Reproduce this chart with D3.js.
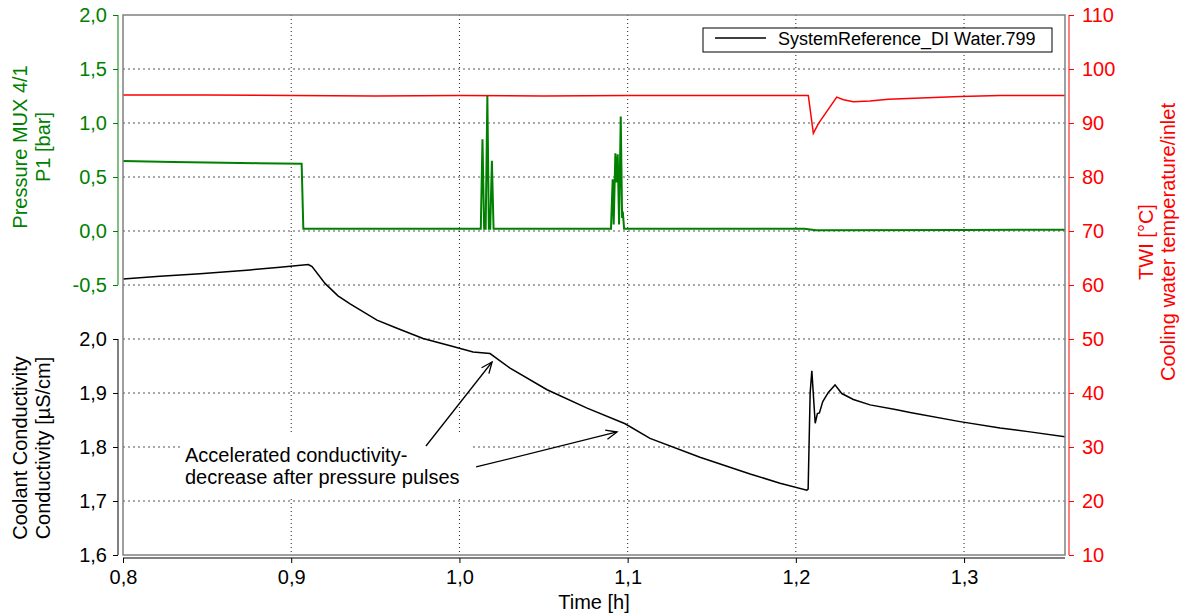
<!DOCTYPE html>
<html>
<head>
<meta charset="utf-8">
<script src="https://cdn.jsdelivr.net/npm/d3@7"></script>
<style>
  body { margin: 0; background: #fff; }
  svg { display: block; font-family: "Liberation Sans", Arial, sans-serif; }
</style>
</head>
<body>
<svg id="chart" width="1189" height="616"></svg>
<script>
// ---- tick values ----
const timeTicks = [0.8, 0.9, 1.0, 1.1, 1.2, 1.3];
const pressureTicks = [2.0, 1.5, 1.0, 0.5, 0.0, -0.5];
const conductivityTicks = [2.0, 1.9, 1.8, 1.7, 1.6];
const temperatureTicks = [10, 20, 30, 40, 50, 60, 70, 80, 90, 100, 110];

// ---- Pressure MUX 4/1 P1 [bar]  (time [h], bar) ----
const pressureSeries = [
  [0.800, 0.648], [0.830, 0.640], [0.860, 0.633], [0.880, 0.628], [0.9062, 0.622],
  [0.9072, 0.020], [0.950, 0.020], [1.000, 0.020],
  [1.0127, 0.020], [1.0137, 0.850], [1.0147, 0.020], [1.0156, 0.020],
  [1.0166, 1.250], [1.0175, 0.020], [1.0183, 0.020], [1.0193, 0.650],
  [1.0203, 0.020], [1.050, 0.020], [1.0901, 0.020],
  [1.0911, 0.480], [1.0917, 0.060], [1.0927, 0.720], [1.0934, 0.450],
  [1.0941, 0.710], [1.0949, 0.060], [1.0959, 1.060], [1.0967, 0.120],
  [1.0971, 0.180], [1.0979, 0.020], [1.150, 0.020], [1.205, 0.020],
  [1.212, 0.008], [1.300, 0.010], [1.360, 0.012]
];

// ---- TWI cooling water temperature/inlet [°C] ----
const temperatureSeries = [
  [0.800, 95.2], [0.850, 95.2], [0.900, 95.1], [0.950, 95.0], [1.000, 95.1],
  [1.050, 95.0], [1.100, 95.1], [1.150, 95.1], [1.200, 95.1], [1.2074, 95.1],
  [1.2104, 88.1], [1.2134, 89.9], [1.2243, 94.8], [1.2283, 94.3],
  [1.2342, 93.95], [1.2441, 94.07], [1.2550, 94.38], [1.2976, 94.9],
  [1.3214, 95.1], [1.3600, 95.1]
];

// ---- Coolant conductivity [µS/cm] ----
const conductivitySeries = [
  [0.800, 2.111], [0.822, 2.116], [0.8458, 2.121], [0.8755, 2.128], [0.8933, 2.133],
  [0.9102, 2.138], [0.9124, 2.134], [0.9201, 2.103], [0.9278, 2.080], [0.9350, 2.065],
  [0.9510, 2.035], [0.9629, 2.020], [0.9784, 2.001], [0.9962, 1.986], [1.0081, 1.976],
  [1.0182, 1.973], [1.0301, 1.946], [1.0521, 1.906], [1.0759, 1.872], [1.0985, 1.843],
  [1.1133, 1.816], [1.1430, 1.781], [1.1728, 1.750], [1.1906, 1.733], [1.2065, 1.720],
  [1.2073, 1.722], [1.2085, 1.900], [1.2095, 1.941], [1.2115, 1.844], [1.2128, 1.862],
  [1.2140, 1.863], [1.2160, 1.884], [1.2193, 1.901], [1.2233, 1.915], [1.2273, 1.899],
  [1.2342, 1.888], [1.2441, 1.878], [1.2600, 1.869], [1.2679, 1.864], [1.2976, 1.847],
  [1.3214, 1.835], [1.3392, 1.828], [1.3600, 1.819]
];

const legendLabel = "SystemReference_DI Water.799";
const noteLines = ["Accelerated conductivity-", "decrease after pressure pulses"];
// annotation arrows: [tail time, tail conductivity, head time, head conductivity]
const noteArrows = [
  [0.9801, 1.8019, 1.0194, 1.9574],
  [1.0099, 1.7630, 1.0937, 1.8278]
];

// ---- layout ----
const plot = { left: 123, right: 1065, top: 15, bottom: 555 };
const GREEN = "#008000", RED = "#ff0000";
const comma = d => d3.format(".1f")(d).replace(".", ",").replace("−", "-");

const svg = d3.select("#chart");

const x = d3.scaleLinear().domain([0.8, 1.36]).range([plot.left, plot.right]);
const yP = d3.scaleLinear().domain([-3, 2]).range([plot.bottom, plot.top]);
const yC = d3.scaleLinear().domain([1.6, 2.6]).range([plot.bottom, plot.top]);
const yT = d3.scaleLinear().domain([10, 110]).range([plot.bottom, plot.top]);

svg.append("defs").append("clipPath").attr("id", "plotClip")
  .append("rect").attr("x", plot.left).attr("y", plot.top)
  .attr("width", plot.right - plot.left).attr("height", plot.bottom - plot.top);

// ---- grid ----
const grid = svg.append("g");
grid.selectAll("line.h").data(temperatureTicks.filter(d => d > 10 && d < 110)).join("line")
  .attr("x1", plot.left).attr("x2", plot.right)
  .attr("y1", d => yT(d)).attr("y2", d => yT(d))
  .attr("stroke", "#555").attr("stroke-width", 1).attr("stroke-dasharray", "2,3");
grid.selectAll("line.v").data(timeTicks.filter(d => d > 0.8)).join("line")
  .attr("y1", plot.top).attr("y2", plot.bottom)
  .attr("x1", d => x(d)).attr("x2", d => x(d))
  .attr("stroke", "#222").attr("stroke-width", 1).attr("stroke-dasharray", "1,3");

// ---- annotation ----
const note = svg.append("g");
note.append("rect").attr("x", 183).attr("y", 435).attr("width", 290).attr("height", 62).attr("fill", "#fff");
note.selectAll("text").data(noteLines).join("text")
  .attr("x", 185).attr("y", (d, i) => 462 + i * 22)
  .attr("font-size", 20).attr("fill", "#000").text(d => d);

noteArrows.forEach(([t1, c1, t2, c2]) => {
  const x1 = x(t1), y1 = yC(c1), x2 = x(t2), y2 = yC(c2);
  const a = Math.atan2(y2 - y1, x2 - x1), L = 12, w = 0.4;
  note.append("line").attr("x1", x1).attr("y1", y1).attr("x2", x2).attr("y2", y2)
    .attr("stroke", "#000").attr("stroke-width", 1.3);
  note.append("path")
    .attr("d", `M${x2 - L * Math.cos(a - w)},${y2 - L * Math.sin(a - w)}L${x2},${y2}L${x2 - L * Math.cos(a + w)},${y2 - L * Math.sin(a + w)}`)
    .attr("fill", "none").attr("stroke", "#000").attr("stroke-width", 1.3);
});

// ---- series ----
const series = svg.append("g").attr("clip-path", "url(#plotClip)");
series.append("path").datum(pressureSeries)
  .attr("d", d3.line().x(d => x(d[0])).y(d => yP(d[1])))
  .attr("fill", "none").attr("stroke", GREEN).attr("stroke-width", 2);
series.append("path").datum(temperatureSeries)
  .attr("d", d3.line().x(d => x(d[0])).y(d => yT(d[1])))
  .attr("fill", "none").attr("stroke", RED).attr("stroke-width", 1.5);
series.append("path").datum(conductivitySeries)
  .attr("d", d3.line().x(d => x(d[0])).y(d => yC(d[1])))
  .attr("fill", "none").attr("stroke", "#000").attr("stroke-width", 1.5);

// ---- frame ----
svg.append("rect").attr("x", plot.left).attr("y", plot.top)
  .attr("width", plot.right - plot.left).attr("height", plot.bottom - plot.top)
  .attr("fill", "none").attr("stroke", "#808080").attr("stroke-width", 1.5);

// ---- axes ----
function styleAxis(g, color) {
  g.select(".domain").remove();
  g.selectAll(".tick line").attr("stroke", color);
  g.selectAll(".tick text").attr("fill", color).attr("font-size", 20)
    .attr("font-family", "Liberation Sans, Arial, sans-serif");
}

const gP = svg.append("g").attr("transform", "translate(118,0)")
  .call(d3.axisLeft(yP).tickValues(pressureTicks).tickSize(5).tickPadding(6).tickFormat(comma));
styleAxis(gP, GREEN);
gP.append("line").attr("y1", yP(2)).attr("y2", yP(-0.5)).attr("stroke", GREEN);

const gC = svg.append("g").attr("transform", "translate(118,0)")
  .call(d3.axisLeft(yC).tickValues(conductivityTicks).tickSize(5).tickPadding(6).tickFormat(comma));
styleAxis(gC, "#000");
gC.append("line").attr("y1", yC(2.0)).attr("y2", yC(1.6)).attr("stroke", "#000");

const gT = svg.append("g").attr("transform", "translate(1069,0)")
  .call(d3.axisRight(yT).tickValues(temperatureTicks).tickSize(5).tickPadding(8).tickFormat(d3.format("d")));
styleAxis(gT, RED);
gT.append("line").attr("y1", yT(110)).attr("y2", yT(10)).attr("stroke", RED);

const gX = svg.append("g").attr("transform", "translate(0,558)")
  .call(d3.axisBottom(x).tickValues(timeTicks).tickSize(5).tickPadding(7).tickFormat(comma));
styleAxis(gX, "#000");
gX.append("line").attr("x1", plot.left).attr("x2", plot.right).attr("stroke", "#000");

// ---- axis titles ----
function vTitle(xPos, yMid, lines, color) {
  lines.forEach((t, i) => {
    svg.append("text")
      .attr("transform", `translate(${xPos[i]},${yMid}) rotate(-90)`)
      .attr("text-anchor", "middle").attr("font-size", 20).attr("fill", color).text(t);
  });
}
vTitle([27, 50], 147, ["Pressure MUX 4/1", "P1 [bar]"], GREEN);
vTitle([27, 50], 448, ["Coolant Conductivity", "Conductivity [µS/cm]"], "#000");
vTitle([1153, 1175], 242, ["TWI [°C]", "Cooling water temperature/inlet"], RED);

svg.append("text").attr("x", (plot.left + plot.right) / 2).attr("y", 609)
  .attr("text-anchor", "middle").attr("font-size", 20).attr("fill", "#000").text("Time [h]");

// ---- legend ----
const lg = svg.append("g");
lg.append("rect").attr("x", 703).attr("y", 28).attr("width", 349).attr("height", 24)
  .attr("fill", "#fff").attr("stroke", "#000").attr("stroke-width", 1);
lg.append("line").attr("x1", 715).attr("x2", 766).attr("y1", 38).attr("y2", 38)
  .attr("stroke", "#000").attr("stroke-width", 1.5);
lg.append("text").attr("x", 778).attr("y", 45).attr("font-size", 18).attr("fill", "#000").text(legendLabel);
</script>
</body>
</html>
